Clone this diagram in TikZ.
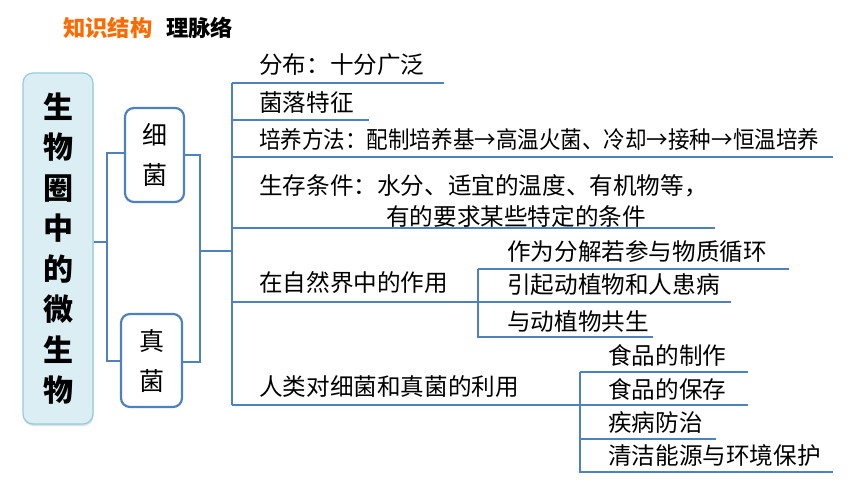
\documentclass[tikz,border=0pt]{standalone}
\usepackage{fontspec}
\usepackage{graphicx}
\setmainfont{Noto Sans CJK SC}
\usetikzlibrary{shadows}
\definecolor{lineblue}{HTML}{4F81BD}
\definecolor{boxfill}{HTML}{DAEEF3}
\definecolor{boxdraw}{HTML}{92CDDC}
\definecolor{titleorange}{HTML}{FF6A00}
\begin{document}
\begin{tikzpicture}[x=1pt,y=-1pt,
  conn/.style={draw=lineblue,line width=2.2pt},
  txt/.style={anchor=west,inner sep=0pt,font=\fontsize{23.6}{26}\selectfont},
  ttl/.style={anchor=west,inner sep=0pt,font=\bfseries\fontsize{22.3}{24}\selectfont},
  mainbox/.style={draw=boxdraw,fill=boxfill,line width=1.2pt,rounded corners=10pt,
    minimum width=70pt,minimum height=351pt,inner sep=0pt,align=center,
    font=\bfseries\fontsize{30}{40.5}\selectfont,
    drop shadow={opacity=0.25,shadow xshift=0.5pt,shadow yshift=-2pt}},
  subbox/.style={draw=lineblue,fill=white,line width=2.2pt,rounded corners=9pt,
    inner sep=0pt,align=center,font=\fontsize{25}{40}\selectfont}]
\useasboundingbox (0,0) rectangle (860,484);

% title
\node[ttl,text=titleorange] (title1) at (63,28) {知识结构};
\node[ttl] (title2) at (166,28) {理脉络};

% boxes
\node[mainbox] (root) at (58,248.5) {生\\物\\圈\\中\\的\\微\\生\\物};
\node[subbox,minimum width=59pt,minimum height=94pt] (xj) at (154.5,155) {细\\菌};
\node[subbox,minimum width=61pt,minimum height=93pt] (zj) at (151.5,360.5) {真\\菌};

% bracket coordinates
\coordinate (j1) at (107,242);
\coordinate (bt) at (107,153);
\coordinate (bb) at (107,361);
\coordinate (ct) at (200,155);
\coordinate (cb) at (200,362);
\coordinate (cm) at (200,251);
\coordinate (tt) at (232,83);
\coordinate (tb) at (232,405);

\draw[conn] (root.east |- j1) -- (j1);
\draw[conn] (xj.west |- bt) -- (bt) -- (bb) -- (zj.west |- bb);
\draw[conn] (xj.east |- ct) -- (ct) -- (cb) -- (zj.east |- cb);
\draw[conn] (cm) -- (cm -| tt);
\draw[conn] (tt) -- (tb);

% texts
\node[txt] (t1) at (259,65) {分布：十分广泛};
\node[txt] (t2) at (259,103) {菌落特征};
\node[txt] (t3) at (259,140) {\resizebox{560pt}{\height}{培养方法：配制培养基→高温火菌、冷却→接种→恒温培养}};
\node[txt] (t4) at (259,186) {生存条件：水分、适宜的温度、有机物等，};
\node[txt] (t5) at (386,216) {有的要求某些特定的条件};
\node[txt] (t6) at (259,283) {在自然界中的作用};
\node[txt] (t7) at (507,252) {作为分解若参与物质循环};
\node[txt] (t8) at (507,285) {引起动植物和人患病};
\node[txt] (t9) at (507,321) {与动植物共生};
\node[txt] (t10) at (259,387) {人类对细菌和真菌的利用};
\node[txt] (t11) at (608,355) {食品的制作};
\node[txt] (t12) at (608,389) {食品的保存};
\node[txt] (t13) at (608,423) {疾病防治};
\node[txt] (t14) at (608,455) {清洁能源与环境保护};

% underlines of the first level
\draw[conn] (tt) -- (444,83);
\draw[conn] (232,120) -- (369,120);
\draw[conn] (232,157) -- (833,157);
\draw[conn] (232,228) -- (715,228);
\draw[conn] (232,302) -- (731,302);
\draw[conn] (tb) -- (748,405);

% sub bracket 1
\coordinate (s1t) at (478,269);
\coordinate (s1b) at (478,337);
\draw[conn] (s1t) -- (789,269);
\draw[conn] (s1t) -- (s1b) -- (653,337);

% sub bracket 2
\coordinate (s2t) at (580,372);
\coordinate (s2b) at (580,472);
\draw[conn] (s2t) -- (748,372);
\draw[conn] (580,439) -- (716,439);
\draw[conn] (s2t) -- (s2b) -- (833,472);
\end{tikzpicture}
\end{document}
